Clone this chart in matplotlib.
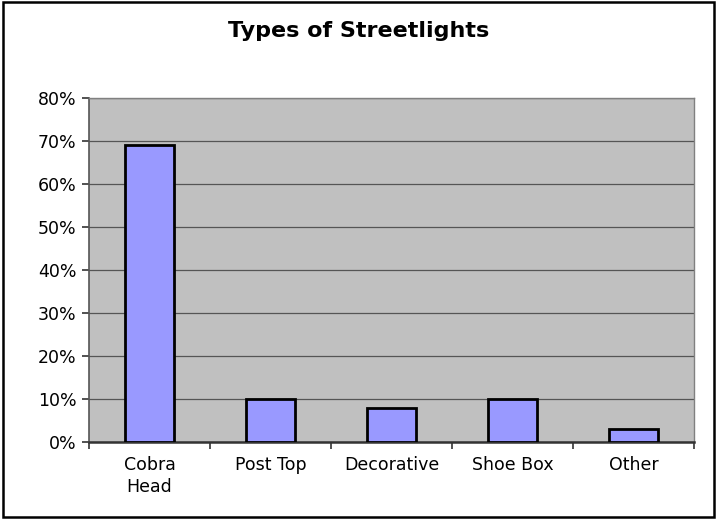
import matplotlib.pyplot as plt
from matplotlib.patches import Rectangle
from matplotlib.ticker import MultipleLocator, FuncFormatter, FixedLocator

# tipos de luminarias e participacao (%)
categorias = ["Cobra\nHead", "Post Top", "Decorative", "Shoe Box", "Other"]
percentuais = [69, 10, 8, 10, 3]

plt.rcParams['font.family'] = ['DejaVu Sans']

fig = plt.figure(figsize=(7.18, 5.19), dpi=100)
ax = fig.add_axes([0.124, 0.1484, 0.8426, 0.6626])

ax.set_facecolor("#C0C0C0")
x = range(len(categorias))
ax.bar(x, percentuais, width=0.4, color="#9999FF", edgecolor="black",
       linewidth=2, zorder=3)

ax.set_ylim(0, 80)
ax.set_xlim(-0.5, len(categorias) - 0.5)
ax.yaxis.set_major_locator(MultipleLocator(10))
ax.yaxis.set_major_formatter(FuncFormatter(lambda v, p: f"{int(v)}%"))
ax.grid(axis="y", color="#555555", linewidth=0.9, zorder=1)

# rotulos no centro, marcas entre categorias
ax.set_xticks(list(x))
ax.set_xticklabels(categorias, fontsize=12.5, linespacing=1.3)
ax.tick_params(axis="x", which="major", length=0, pad=10)
ax.xaxis.set_minor_locator(FixedLocator([i - 0.5 for i in range(len(categorias) + 1)]))
ax.tick_params(axis="x", which="minor", length=5, width=1.2, color="#333333", direction="out")
ax.tick_params(axis="y", length=5, width=1.2, color="#333333", direction="out",
               labelsize=12.5, pad=4)

for lado in ["top", "right"]:
    ax.spines[lado].set_color("#808080")
    ax.spines[lado].set_linewidth(1)
ax.spines["left"].set_color("#555555")
ax.spines["left"].set_linewidth(1.2)
ax.spines["bottom"].set_color("#333333")
ax.spines["bottom"].set_linewidth(1.8)

fig.text(0.5, 0.94, "Types of Streetlights", ha="center", va="center",
         fontsize=16, fontweight="bold")

# moldura do grafico
fig.patches.append(Rectangle((0.004, 0.004), 0.99, 0.992, transform=fig.transFigure,
                             fill=False, edgecolor="black", linewidth=1.8))

fig.savefig("out.png", dpi=100)
